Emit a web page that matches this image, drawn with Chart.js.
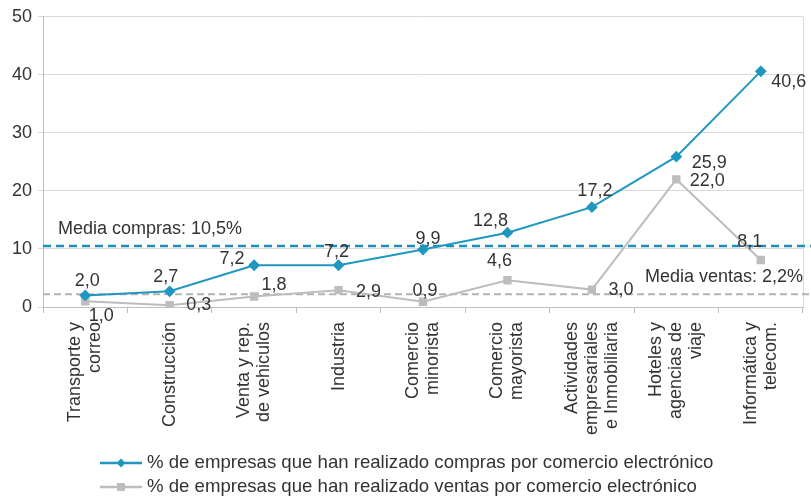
<!DOCTYPE html>
<html lang="es">
<head>
<meta charset="UTF-8" />
<title>Comercio electrónico por sector</title>
<script src="https://cdn.jsdelivr.net/npm/chart.js"></script>
<style>
  body { margin: 0; background: #fff; }
  .chart-box { width: 811px; height: 499px; }
</style>
</head>
<body>
<div class="chart-box"><canvas id="ecomChart"></canvas></div>

<script>
  // data
  const categories = [
    ["Transporte y", "correo"],
    ["Construcción"],
    ["Venta y rep.", "de vehiculos"],
    ["Industria"],
    ["Comercio", "minorista"],
    ["Comercio", "mayorista"],
    ["Actividades", "empresariales", "e Inmobiliaria"],
    ["Hoteles y", "agencias de", "viaje"],
    ["Informática y", "telecom."]
  ];
  const compras = [2.0, 2.7, 7.2, 7.2, 9.9, 12.8, 17.2, 25.9, 40.6];
  const ventas = [1.0, 0.3, 1.8, 2.9, 0.9, 4.6, 3.0, 22.0, 8.1];
  const mediaCompras = 10.5;
  const mediaVentas = 2.2;
  const yTicks = [0, 10, 20, 30, 40, 50];

  const legendCompras = "% de empresas que han realizado compras por comercio electrónico";
  const legendVentas = "% de empresas que han realizado ventas por comercio electrónico";

  const BLUE = "#1f97bf";
  const GREY = "#bdbdbd";
  const TEXT = "#333333";
  const FONT = "'Liberation Sans', Arial, sans-serif";

  // where each value label sits, relative to its point (px)
  const comprasLabelPos = [[2, -14], [-4, -14], [-22, -6], [-2, -13], [5, -11], [-17, -12], [3, -16], [33, 6], [28, 11]];
  const ventasLabelPos = [[16, 15], [29, 0], [20, -12], [30, 2], [2, -11], [-8, -19], [29, 0], [31, 2], [-11, -18]];

  const fmt = v => v.toFixed(1).replace(".", ",");

  function drawMarker(ctx, shape, cx, cy, color) {
    ctx.fillStyle = color;
    if (shape === "diamond") {
      ctx.beginPath();
      ctx.moveTo(cx, cy - 4.5); ctx.lineTo(cx + 4.5, cy); ctx.lineTo(cx, cy + 4.5); ctx.lineTo(cx - 4.5, cy);
      ctx.closePath(); ctx.fill();
    } else {
      ctx.fillRect(cx - 4, cy - 4, 8, 8);
    }
  }

  const overlay = {
    id: "overlay",
    beforeDatasetsDraw(chart) {
      const { ctx, chartArea: a, scales: { y } } = chart;
      ctx.save();
      // right border of plot
      ctx.strokeStyle = "#d9d9d9"; ctx.lineWidth = 1;
      ctx.beginPath(); ctx.moveTo(a.right + 0.5, a.top); ctx.lineTo(a.right + 0.5, a.bottom); ctx.stroke();

      // average lines
      const yc = y.getPixelForValue(mediaCompras);
      ctx.strokeStyle = "#1b8fba"; ctx.lineWidth = 2.5; ctx.setLineDash([8, 5]);
      ctx.beginPath(); ctx.moveTo(a.left, yc); ctx.lineTo(811, yc); ctx.stroke();
      const yv = y.getPixelForValue(mediaVentas);
      ctx.strokeStyle = "#b3b3b3"; ctx.lineWidth = 2; ctx.setLineDash([7, 4]);
      ctx.beginPath(); ctx.moveTo(a.left, yv); ctx.lineTo(811, yv); ctx.stroke();
      ctx.restore();
    },
    afterDatasetsDraw(chart) {
      const { ctx, chartArea: a, scales: { x, y } } = chart;
      ctx.save();
      ctx.fillStyle = TEXT;
      ctx.font = "18px " + FONT;
      ctx.textBaseline = "middle";

      // average labels
      ctx.textAlign = "left";
      ctx.fillText("Media compras: " + fmt(mediaCompras) + "%", a.left + 15, y.getPixelForValue(mediaCompras) - 17);
      ctx.textAlign = "right";
      ctx.fillText("Media ventas: " + fmt(mediaVentas) + "%", a.right, y.getPixelForValue(mediaVentas) - 17);

      // value labels
      ctx.textAlign = "center";
      chart.getDatasetMeta(0).data.forEach((p, i) => {
        ctx.fillText(fmt(compras[i]), p.x + comprasLabelPos[i][0], p.y + comprasLabelPos[i][1]);
      });
      chart.getDatasetMeta(1).data.forEach((p, i) => {
        ctx.fillText(fmt(ventas[i]), p.x + ventasLabelPos[i][0], p.y + ventasLabelPos[i][1]);
      });

      // rotated category labels, lines centred on the tick
      ctx.textAlign = "right";
      categories.forEach((lines, i) => {
        const px = x.getPixelForValue(i);
        ctx.save();
        ctx.translate(px, a.bottom + 15);
        ctx.rotate(-Math.PI / 2);
        lines.forEach((t, j) => {
          ctx.fillText(t, 0, (j - (lines.length - 1) / 2) * 20);
        });
        ctx.restore();
      });

      // legend, two rows, left aligned together
      const rows = [
        { text: legendCompras, color: BLUE, shape: "diamond", y: 463 },
        { text: legendVentas, color: GREY, shape: "square", y: 487 }
      ];
      ctx.font = "18.6px " + FONT;
      ctx.textAlign = "left";
      rows.forEach(r => {
        ctx.strokeStyle = r.color; ctx.lineWidth = 2.5;
        ctx.beginPath(); ctx.moveTo(100, r.y); ctx.lineTo(142, r.y); ctx.stroke();
        drawMarker(ctx, r.shape, 121, r.y, r.color);
        ctx.fillStyle = TEXT;
        ctx.fillText(r.text, 147, r.y);
      });
      ctx.restore();
    }
  };

  new Chart(document.getElementById("ecomChart"), {
    type: "line",
    data: {
      labels: categories.map(c => c.join(" ")),
      datasets: [
        {
          label: legendCompras,
          data: compras,
          borderColor: BLUE,
          backgroundColor: BLUE,
          borderWidth: 2,
          pointStyle: "rectRot",
          pointRadius: 4.5,
          tension: 0
        },
        {
          label: legendVentas,
          data: ventas,
          borderColor: GREY,
          backgroundColor: GREY,
          borderWidth: 2,
          pointStyle: "rect",
          pointRadius: 4.5,
          tension: 0
        }
      ]
    },
    options: {
      responsive: true,
      maintainAspectRatio: false,
      animation: false,
      layout: { padding: { top: 7, right: 8, left: 0, bottom: 54 } },
      plugins: {
        tooltip: { enabled: false },
        legend: { display: false }
      },
      scales: {
        x: {
          offset: true,
          ticks: { display: false },
          grid: { offset: true, drawOnChartArea: false, tickLength: 6, color: "#bfbfbf" },
          border: { color: "#bfbfbf" },
          afterFit: s => { s.height = 138; }
        },
        y: {
          min: 0,
          max: 50,
          afterBuildTicks: s => { s.ticks = yTicks.map(v => ({ value: v })); },
          ticks: { color: TEXT, font: { size: 18, family: FONT }, padding: 6 },
          grid: { color: "#d9d9d9", tickLength: 5 },
          border: { color: "#bfbfbf" },
          afterFit: s => { s.width = 43; }
        }
      }
    },
    plugins: [overlay]
  });
</script>
</body>
</html>
